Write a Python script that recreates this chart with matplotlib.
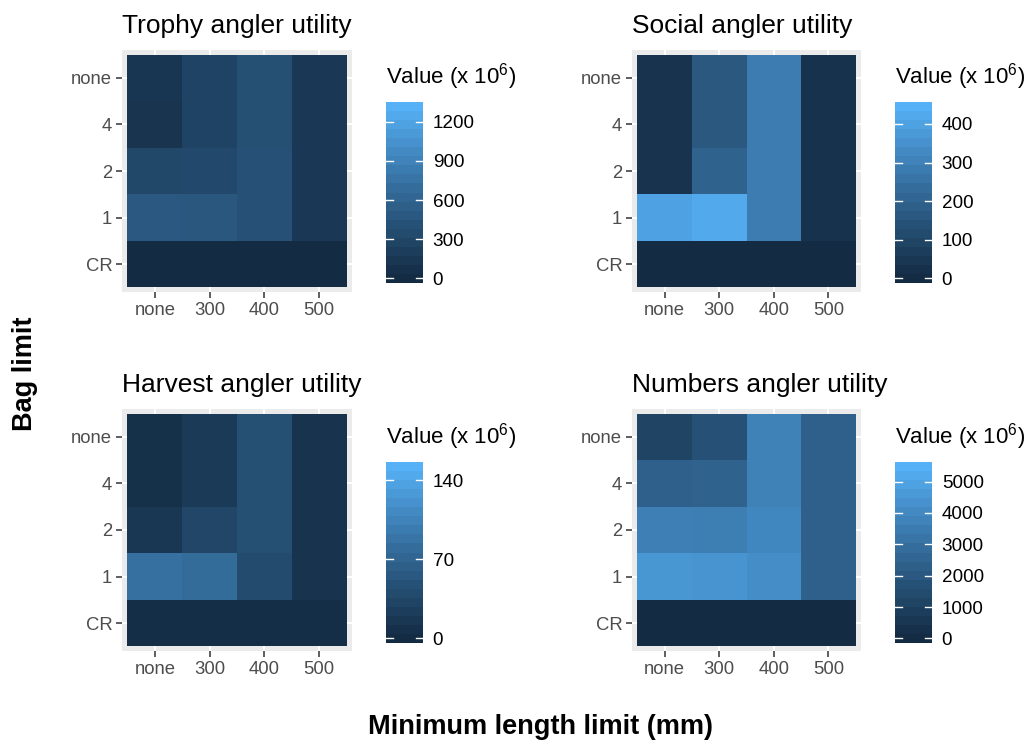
import numpy as np
import matplotlib
matplotlib.use("Agg")
import matplotlib.pyplot as plt
from matplotlib.colors import ListedColormap, Normalize

plt.rcParams["font.family"] = ["Liberation Sans", "DejaVu Sans"]
plt.rcParams["mathtext.fontset"] = "custom"
plt.rcParams["mathtext.rm"] = "Liberation Sans"
plt.rcParams["mathtext.it"] = "Liberation Sans:italic"

# ---- data -------------------------------------------------------------
length_limits = ["none", "300", "400", "500"]
bag_limits = ["CR", "1", "2", "4", "none"]          # bottom to top

# rows follow bag_limits (CR, 1, 2, 4, none); columns follow length_limits
trophy = [
    [0, 0, 0, 0],
    [480, 465, 400, 145],
    [305, 320, 400, 145],
    [105, 265, 385, 145],
    [120, 265, 385, 145],
]
social = [
    [0, 0, 0, 0],
    [397, 420, 280, 28],
    [31, 196, 280, 28],
    [31, 160, 280, 28],
    [31, 160, 280, 28],
]
harvest = [
    [4, 4, 4, 4],
    [83, 77, 40, 11],
    [15, 34, 44, 11],
    [6, 19, 44, 11],
    [6, 20, 44, 11],
]
numbers = [
    [0, 0, 0, 0],
    [4430, 4400, 4120, 2350],
    [3600, 3550, 3880, 2350],
    [2350, 2400, 3660, 2350],
    [1130, 1650, 3660, 2350],
]

titles = ["Trophy angler utility", "Social angler utility",
          "Harvest angler utility", "Numbers angler utility"]
scale_max = [1315, 445, 152, 5478]
scale_breaks = [[0, 300, 600, 900, 1200],
                [0, 100, 200, 300, 400],
                [0, 70, 140],
                [0, 1000, 2000, 3000, 4000, 5000]]
panels = [trophy, social, harvest, numbers]


# ---- gradient interpolated in CIELAB ----------------------------------
def _srgb_to_lab(rgb):
    rgb = np.asarray(rgb, float)
    lin = np.where(rgb <= 0.04045, rgb / 12.92, ((rgb + 0.055) / 1.055) ** 2.4)
    m = np.array([[0.4124, 0.3576, 0.1805],
                  [0.2126, 0.7152, 0.0722],
                  [0.0193, 0.1192, 0.9505]])
    xyz = m @ lin / np.array([0.95047, 1.0, 1.08883])
    f = np.where(xyz > 0.008856, np.cbrt(xyz), 7.787 * xyz + 16 / 116)
    return np.array([116 * f[1] - 16, 500 * (f[0] - f[1]), 200 * (f[1] - f[2])])


def _lab_to_srgb(lab):
    L, a, b = lab
    fy = (L + 16) / 116
    fx = fy + a / 500
    fz = fy - b / 200
    f = np.array([fx, fy, fz])
    xyz = np.where(f ** 3 > 0.008856, f ** 3, (f - 16 / 116) / 7.787)
    xyz = xyz * np.array([0.95047, 1.0, 1.08883])
    m = np.array([[3.2406, -1.5372, -0.4986],
                  [-0.9689, 1.8758, 0.0415],
                  [0.0557, -0.2040, 1.0570]])
    lin = m @ xyz
    rgb = np.where(lin <= 0.0031308, 12.92 * lin,
                   1.055 * np.clip(lin, 0, None) ** (1 / 2.4) - 0.055)
    return np.clip(rgb, 0, 1)


def _hex(h):
    return np.array([int(h[i:i + 2], 16) / 255 for i in (1, 3, 5)])


lab_lo = _srgb_to_lab(_hex("#132B43"))
lab_hi = _srgb_to_lab(_hex("#56B1F7"))
grad = [_lab_to_srgb(lab_lo + t * (lab_hi - lab_lo)) for t in np.linspace(0, 1, 256)]
cmap = ListedColormap(grad)

# ---- layout -----------------------------------------------------------
W, H = 1030, 742
fig = plt.figure(figsize=(W / 100, H / 100), dpi=100)
fig.patch.set_facecolor("white")


def fbox(left, top, right, bottom):
    return [left / W, 1 - bottom / H, (right - left) / W, (bottom - top) / H]


panel_boxes = [(122, 50, 352, 292), (632, 50, 861, 292),
               (122, 409, 352, 651), (632, 409, 861, 651)]
bar_boxes = [(386, 102, 423, 283), (895, 102, 932, 283),
             (386, 462, 423, 643), (895, 462, 932, 643)]

xe = np.arange(len(length_limits) + 1) + 0.5
ye = np.arange(len(bag_limits) + 1) + 0.5
nbin = 20

for vals, title, vmax, breaks, pb, bb in zip(panels, titles, scale_max,
                                             scale_breaks, panel_boxes, bar_boxes):
    norm = Normalize(0, vmax)
    ax = fig.add_axes(fbox(*pb))
    ax.set_facecolor("#EBEBEB")
    ax.pcolormesh(xe, ye, np.asarray(vals, float), cmap=cmap, norm=norm,
                  shading="flat", zorder=2, antialiased=False, edgecolor="none")
    ax.set_xlim(0.4, len(length_limits) + 0.6)
    ax.set_ylim(0.4, len(bag_limits) + 0.6)
    ax.set_xticks(np.arange(1, len(length_limits) + 1), length_limits)
    ax.set_yticks(np.arange(1, len(bag_limits) + 1), bag_limits)
    ax.grid(True, color="white", linewidth=1.4, zorder=1)
    ax.set_axisbelow(True)
    for s in ax.spines.values():
        s.set_visible(False)
    ax.tick_params(length=4, width=1.1, color="#333333", labelcolor="#4D4D4D",
                   labelsize=13.3, pad=3)
    fig.text(pb[0] / W, 1 - 33 / H - (pb[1] - 50) / H, title, fontsize=19,
             ha="left", va="baseline", color="black")

    # stepped colour bar
    cax = fig.add_axes(fbox(*bb))
    d = vmax / (nbin - 1)
    steps = np.linspace(0, vmax, nbin).reshape(-1, 1)
    cax.imshow(steps, cmap=cmap, norm=norm, origin="lower", aspect="auto",
               extent=[0, 1, -d / 2, vmax + d / 2], interpolation="nearest")
    cax.set_xlim(0, 1)
    cax.set_ylim(-d / 2, vmax + d / 2)
    for b in breaks:
        cax.plot([0, 0.2], [b, b], color="white", lw=1.0)
        cax.plot([0.8, 1], [b, b], color="white", lw=1.0)
    cax.set_xticks([])
    cax.yaxis.tick_right()
    cax.set_yticks(breaks, [str(b) for b in breaks])
    cax.tick_params(axis="y", length=0, labelsize=13.6, pad=7, labelcolor="black")
    for s in cax.spines.values():
        s.set_visible(False)
    fig.text(bb[0] / W, 1 - (bb[1] - 18) / H, "Value (x 10$^{6}$)",
             fontsize=16, ha="left", va="baseline")

fig.text(540 / W, 1 - 727 / H, "Minimum length limit (mm)", fontsize=19.5,
         fontweight="bold", ha="center", va="center")
fig.text(25 / W, 1 - 374 / H, "Bag limit", fontsize=19.5, fontweight="bold",
         rotation=90, ha="center", va="center")

fig.savefig("out.png", dpi=100)
